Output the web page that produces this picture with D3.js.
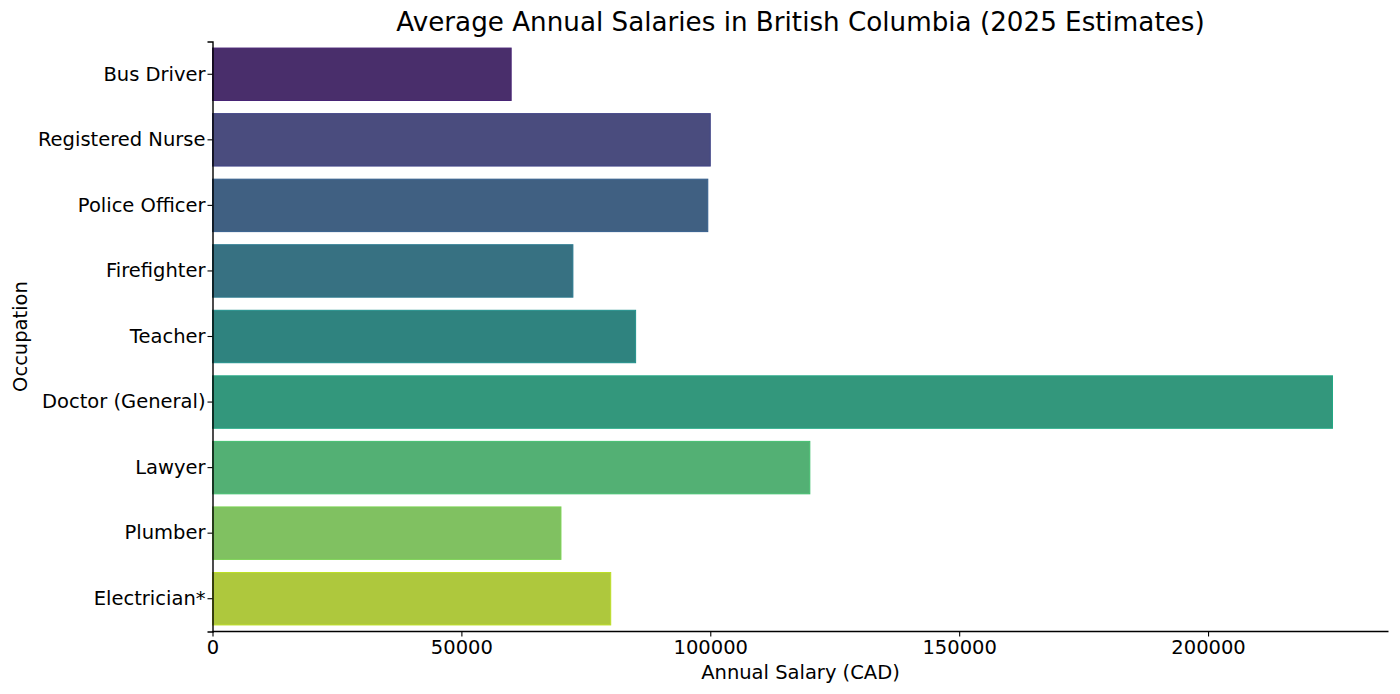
<!DOCTYPE html>
<html>
<head>
<meta charset="utf-8">
<script src="https://cdn.jsdelivr.net/npm/d3@7"></script>
<style>
  body { margin: 0; background: #fff; }
  text { font-family: "DejaVu Sans", sans-serif; fill: #000; }
</style>
</head>
<body>
<script>
var width = 1400,
    height = 694;

var occupations = ["Bus Driver", "Registered Nurse", "Police Officer", "Firefighter",
                   "Teacher", "Doctor (General)", "Lawyer", "Plumber", "Electrician*"];
var salaries = [60000, 100000, 99500, 72400, 85000, 225000, 120000, 70000, 80000];
var xTicks = [0, 50000, 100000, 150000, 200000];

var margin = {top: 41.5, right: 11.5, bottom: 62.5, left: 212.5};

var svg = d3.select("body").append("svg")
    .attr("width", width)
    .attr("height", height);

var x = d3.scaleLinear()
    .domain([0, d3.max(salaries) * 1.05])
    .range([margin.left, width - margin.right]);

var y = d3.scaleBand()
    .domain(occupations)
    .range([margin.top, height - margin.bottom])
    .paddingInner(0.2)
    .paddingOuter(0.1);

// seaborn-style viridis palette, desaturated a bit for the fill
function barColour(i, sat)
{
  var c = d3.hsl(d3.interpolateViridis((i + 1) / (occupations.length + 1)));
  c.s = c.s * sat;
  return c.formatHex();
}

svg.append("g")
  .selectAll("rect")
  .data(salaries)
  .enter().append("rect")
    .attr("x", x(0))
    .attr("y", function(d, i) { return y(occupations[i]); })
    .attr("width", function(d) { return x(d) - x(0); })
    .attr("height", y.bandwidth())
    .attr("fill", function(d, i) { return barColour(i, 0.75); })
    .attr("stroke", function(d, i) { return barColour(i, 1); })
    .attr("stroke-width", 1)

var xAxis = svg.append("g")
    .attr("transform", "translate(0," + (height - margin.bottom) + ")")
    .call(d3.axisBottom(x).tickValues(xTicks).tickFormat(d3.format("d")).tickSizeOuter(0).tickSize(5).tickPadding(4));

var yAxis = svg.append("g")
    .attr("transform", "translate(" + margin.left + ",0)")
    .call(d3.axisLeft(y).tickSizeOuter(0).tickSize(5).tickPadding(2));

svg.selectAll(".tick text").attr("font-size", 19.5).attr("font-family", "DejaVu Sans");
xAxis.select(".domain").attr("stroke-width", 1.4);
yAxis.select(".domain").attr("stroke-width", 1.4);
svg.selectAll(".tick line").attr("stroke-width", 1.1);
// push the x axis line all the way to the right edge of the plot
xAxis.select(".domain").attr("d", "M" + margin.left + ",0H" + (width - margin.right));

svg.append("text")
    .attr("x", (margin.left + width - margin.right) / 2)
    .attr("y", 31)
    .attr("text-anchor", "middle")
    .attr("font-size", 26.2)
    .attr("fill", "#222")
    .text("Average Annual Salaries in British Columbia (2025 Estimates)")

svg.append("text")
    .attr("x", (margin.left + width - margin.right) / 2)
    .attr("y", 679)
    .attr("text-anchor", "middle")
    .attr("font-size", 19.5)
    .text("Annual Salary (CAD)")

svg.append("text")
    .attr("transform", "translate(27," + ((margin.top + height - margin.bottom) / 2) + ") rotate(-90)")
    .attr("text-anchor", "middle")
    .attr("font-size", 19.5)
    .text("Occupation")
</script>
</body>
</html>
